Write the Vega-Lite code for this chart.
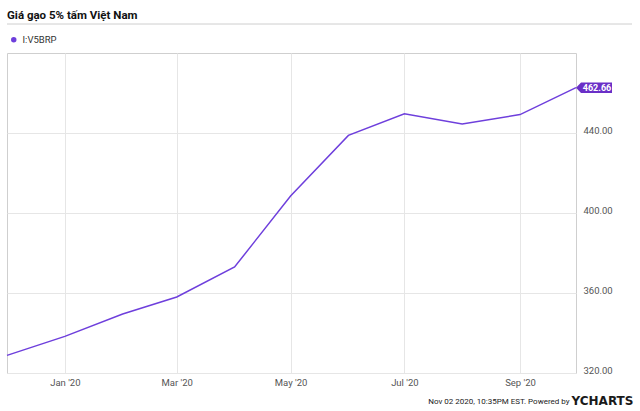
{
  "$schema": "https://vega.github.io/schema/vega-lite/v6.json",
  "width": 569,
  "height": 320,
  "autosize": {"type": "none"},
  "padding": {"left": 7, "top": 53, "right": 64, "bottom": 38},
  "background": "white",
  "title": {
    "text": "Giá gạo 5% tấm Việt Nam",
    "anchor": "start",
    "frame": "group",
    "font": "Roboto",
    "fontSize": 11.5,
    "fontWeight": "bold",
    "color": "#111",
    "baseline": "alphabetic",
    "offset": -7
  },
  "data": {
    "values": [
      {"date": "2019-12-01T00:00:00", "value": 328.8, "series": "I:V5BRP"},
      {"date": "2020-01-01T00:00:00", "value": 338.3, "series": "I:V5BRP"},
      {"date": "2020-02-01T00:00:00", "value": 349.5, "series": "I:V5BRP"},
      {"date": "2020-03-01T00:00:00", "value": 358.0, "series": "I:V5BRP"},
      {"date": "2020-04-01T00:00:00", "value": 373.0, "series": "I:V5BRP"},
      {"date": "2020-05-01T00:00:00", "value": 408.5, "series": "I:V5BRP"},
      {"date": "2020-06-01T00:00:00", "value": 438.8, "series": "I:V5BRP"},
      {"date": "2020-07-01T00:00:00", "value": 449.6, "series": "I:V5BRP"},
      {"date": "2020-08-01T00:00:00", "value": 444.5, "series": "I:V5BRP"},
      {"date": "2020-09-01T00:00:00", "value": 449.2, "series": "I:V5BRP"},
      {"date": "2020-10-01T00:00:00", "value": 462.66, "series": "I:V5BRP"}
    ]
  },
  "encoding": {
    "x": {
      "field": "date",
      "type": "temporal",
      "scale": {"domain": [
        {"year": 2019, "month": 12, "date": 1},
        {"year": 2020, "month": 10, "date": 1}
      ]},
      "axis": {
        "values": [
          {"year": 2020, "month": 1, "date": 1},
          {"year": 2020, "month": 3, "date": 1},
          {"year": 2020, "month": 5, "date": 1},
          {"year": 2020, "month": 7, "date": 1},
          {"year": 2020, "month": 9, "date": 1}
        ],
        "format": "%b '%y",
        "ticks": false,
        "domain": false,
        "grid": true,
        "gridColor": "#e6e6e6",
        "labelFont": "Roboto",
        "labelFontSize": 9.5,
        "labelColor": "#555",
        "labelPadding": 4,
        "title": "Nov 02 2020, 10:35PM EST.  Powered by",
        "titleFont": "Roboto",
        "titleFontSize": 8,
        "titleFontWeight": "normal",
        "titleColor": "#222",
        "titleAlign": "right",
        "titleAnchor": null,
        "titleBaseline": "alphabetic",
        "titleX": 562,
        "titleY": 30
      }
    },
    "y": {
      "field": "value",
      "type": "quantitative",
      "scale": {"domain": [320, 480], "nice": false, "zero": false},
      "axis": {
        "orient": "right",
        "values": [320, 360, 400, 440],
        "format": ".2f",
        "ticks": false,
        "domain": false,
        "grid": true,
        "gridColor": "#e6e6e6",
        "labelFont": "Roboto",
        "labelFontSize": 9.5,
        "labelColor": "#555",
        "labelPadding": 7,
        "labelBaseline": "alphabetic",
        "labelFlush": false,
        "title": "YCHARTS",
        "titleFont": "DejaVu Sans",
        "titleFontSize": 12,
        "titleFontWeight": "bold",
        "titleColor": "#1a1a1a",
        "titleAngle": 0,
        "titleAlign": "left",
        "titleAnchor": null,
        "titleBaseline": "alphabetic",
        "titleX": -5,
        "titleY": 351
      }
    }
  },
  "layer": [
    {
      "mark": {"type": "line", "strokeWidth": 1.5, "clip": false},
      "encoding": {
        "color": {
          "field": "series",
          "type": "nominal",
          "scale": {"range": ["#6e3fdc"]},
          "legend": {
            "title": null,
            "orient": "none",
            "legendX": 2,
            "legendY": -18,
            "padding": 0,
            "symbolType": "circle",
            "symbolSize": 30,
            "symbolFillColor": "#6e3fdc",
            "symbolStrokeWidth": 0,
            "labelFont": "Roboto",
            "labelFontSize": 9.5,
            "labelColor": "#333",
            "labelOffset": 4
          }
        }
      }
    },
    {
      "transform": [{"filter": "datum.value === 462.66"}],
      "mark": {
        "type": "point",
        "shape": "M0,0 L0.28,-0.29 L2,-0.29 L2,0.29 L0.28,0.29 Z",
        "size": 1296,
        "filled": true,
        "color": "#6a2fc7",
        "opacity": 1,
        "strokeWidth": 0
      }
    },
    {
      "transform": [{"filter": "datum.value === 462.66"}],
      "mark": {
        "type": "text",
        "align": "center",
        "baseline": "middle",
        "dx": 21,
        "dy": 0.5,
        "font": "Roboto",
        "fontSize": 9,
        "fontWeight": "bold",
        "color": "white"
      },
      "encoding": {"text": {"field": "value", "type": "quantitative", "format": ".2f"}}
    },
    {
      "mark": {"type": "rule", "color": "#e6e6e6", "strokeWidth": 1},
      "encoding": {
        "x": {"datum": {"year": 2019, "month": 12, "date": 1}, "type": "temporal"},
        "x2": {"datum": {"year": 2020, "month": 10, "date": 31}},
        "y": {"datum": 494.5, "type": "quantitative"}
      }
    }
  ],
  "config": {
    "view": {"stroke": "#cfcfcf", "strokeWidth": 1}
  }
}
